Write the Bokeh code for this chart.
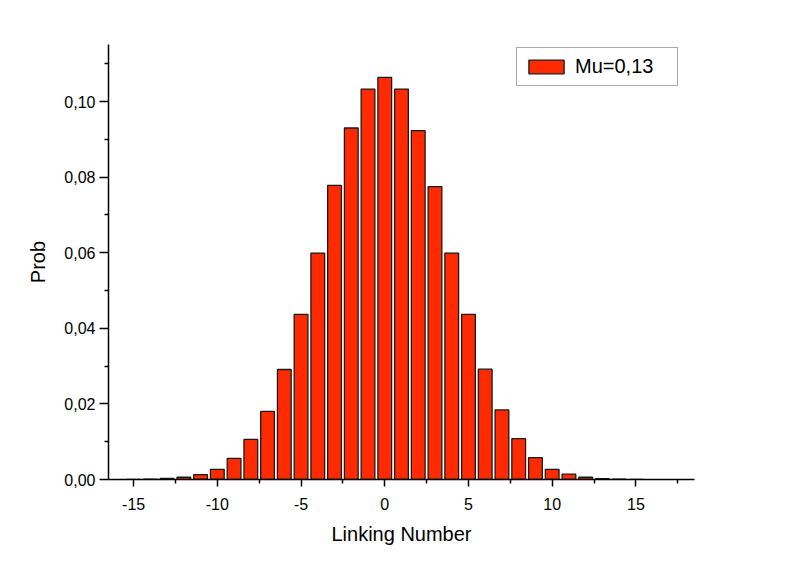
from bokeh.plotting import figure
from bokeh.models import FixedTicker, CustomJSTickFormatter, Range1d
from bokeh.embed import file_html
from bokeh.resources import INLINE

linking = [-15, -14, -13, -12, -11, -10, -9, -8, -7, -6, -5, -4, -3, -2, -1, 0,
           1, 2, 3, 4, 5, 6, 7, 8, 9, 10, 11, 12, 13, 14, 15]
prob = [0.00003, 0.0001, 0.0003, 0.0006, 0.0013, 0.0027, 0.0056, 0.0106, 0.0180,
        0.0291, 0.0437, 0.0599, 0.0778, 0.0930, 0.1033, 0.1064,
        0.1033, 0.0923, 0.0775, 0.0599, 0.0437, 0.0292, 0.0184, 0.0108, 0.0058,
        0.0027, 0.0014, 0.0006, 0.0002, 0.0001, 0.00003]
series_name = "Mu=0,13"
x_ticks = [-15, -10, -5, 0, 5, 10, 15]
x_minor = [-12.5, -7.5, -2.5, 2.5, 7.5, 12.5, 17.5]
y_ticks = [0.0, 0.02, 0.04, 0.06, 0.08, 0.10]
y_minor = [0.01, 0.03, 0.05, 0.07, 0.09, 0.11]

FONT = "Liberation Sans"

p = figure(width=779, height=565, output_backend="svg", toolbar_location=None,
           x_range=Range1d(-16.5, 18.5), y_range=Range1d(0, 0.1151),
           min_border_left=108, min_border_right=85, min_border_top=44,
           min_border_bottom=86)
p.outline_line_color = None
p.xgrid.visible = False
p.ygrid.visible = False

p.vbar(x=linking, top=prob, width=0.82, bottom=0,
       fill_color="#ff2a00", line_color="#1a1a1a", line_width=1.3,
       legend_label=series_name)

# x axis
xa = p.xaxis[0]
xa.ticker = FixedTicker(ticks=x_ticks, minor_ticks=x_minor)
xa.formatter = CustomJSTickFormatter(code="return String(Math.round(tick));")
xa.axis_label = "Linking Number"
xa.axis_label_text_font = FONT
xa.axis_label_text_font_size = "20px"
xa.axis_label_text_font_style = "normal"
xa.axis_label_text_color = "black"
xa.axis_label_standoff = 10
xa.major_label_text_font = FONT
xa.major_label_text_font_size = "16px"
xa.major_label_text_color = "black"
xa.major_label_standoff = 11
xa.major_tick_in = 0
xa.major_tick_out = 7
xa.minor_tick_in = 0
xa.minor_tick_out = 4
xa.axis_line_width = 1.5
xa.major_tick_line_width = 1.5
xa.minor_tick_line_width = 1.5
xa.axis_line_color = "black"

# y axis
ya = p.yaxis[0]
ya.ticker = FixedTicker(ticks=y_ticks, minor_ticks=y_minor)
ya.formatter = CustomJSTickFormatter(code="return tick.toFixed(2).replace('.', ',');")
ya.axis_label = "Prob"
ya.axis_label_text_font = FONT
ya.axis_label_text_font_size = "20px"
ya.axis_label_text_font_style = "normal"
ya.axis_label_text_color = "black"
ya.axis_label_standoff = 12
ya.major_label_text_font = FONT
ya.major_label_text_font_size = "16px"
ya.major_label_text_color = "black"
ya.major_label_standoff = 4
ya.major_tick_in = 0
ya.major_tick_out = 9
ya.minor_tick_in = 0
ya.minor_tick_out = 4
ya.axis_line_width = 1.5
ya.major_tick_line_width = 1.5
ya.minor_tick_line_width = 1.5

# legend
lg = p.legend[0]
lg.location = (408, 393)
lg.label_text_font = FONT
lg.label_text_font_size = "20px"
lg.label_text_color = "black"
lg.glyph_width = 44
lg.glyph_height = 17
lg.label_height = 17
lg.label_width = 95
lg.label_standoff = 7
lg.padding = 7
lg.margin = 0
lg.spacing = 0
lg.border_line_color = "#555555"
lg.border_line_width = 1
lg.background_fill_alpha = 1

open("out.html", "w").write(file_html(p, INLINE))
